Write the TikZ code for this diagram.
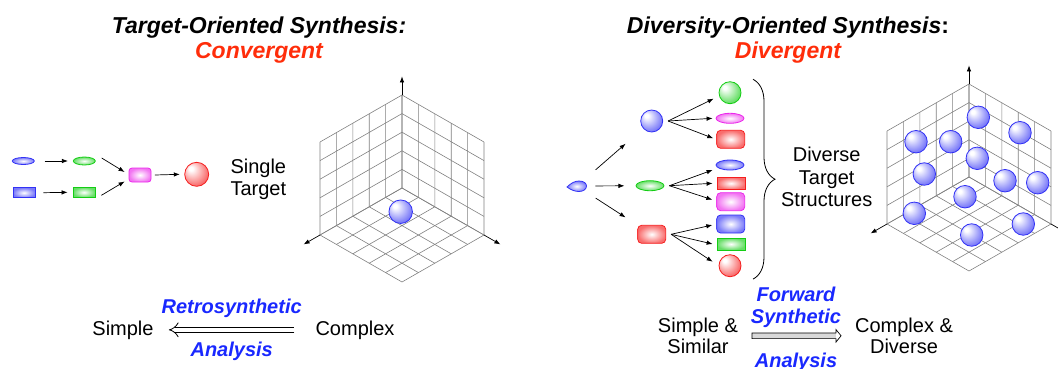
\documentclass[tikz,border=0pt]{standalone}
\usepackage{fontspec}
\setmainfont{Liberation Sans}
\usepackage{xcolor}
\usepackage{tikz}
\usetikzlibrary{arrows.meta,positioning,calc,shapes.geometric,decorations.pathreplacing}

\definecolor{dsblue}{RGB}{50,50,245}
\definecolor{dsred}{RGB}{245,30,30}
\definecolor{dsgreen}{RGB}{20,205,20}
\definecolor{dsmag}{RGB}{235,40,235}
\definecolor{ttlred}{RGB}{255,45,10}
\definecolor{txtblue}{RGB}{25,40,255}

\colorlet{sphcol}{blue}
\pgfdeclareradialshading[sphcol]{sphere}{\pgfpoint{-13bp}{13bp}}{%
  color(0bp)=(white); color(4bp)=(white); color(30bp)=(sphcol); color(50bp)=(sphcol!90!black)}

\begin{document}
\begin{tikzpicture}[
    x=1pt, y=-1pt,
    >=Latex,
    sph/.style={circle, draw=#1, line width=0.8pt, inner sep=0pt, minimum size=22pt,
        /utils/exec={\colorlet{sphcol}{#1!68!white}}, shading=sphere},
    ell/.style={ellipse, draw=#1, line width=0.8pt, inner sep=0pt, inner color=white,
        outer color=#1!65!white, minimum width=28pt, minimum height=10pt},
    blk/.style={rectangle, draw=#1, line width=0.8pt, inner sep=0pt, inner color=white,
        outer color=#1!65!white, minimum width=28pt, minimum height=12pt},
    rblk/.style={blk=#1, rounded corners=4pt, minimum height=18pt},
    arr/.style={-{Latex[length=6pt,width=4.5pt]}, line width=0.7pt},
    gridln/.style={draw=black!50, line width=0.6pt},
    axisln/.style={-{Latex[length=6pt,width=4.5pt]}, line width=0.7pt},
    ttl/.style={font=\fontsize{23}{26}\selectfont\bfseries\itshape, inner sep=0pt, anchor=base},
    lbl/.style={font=\fontsize{20}{21.7}\selectfont, align=center, inner sep=0pt, anchor=base},
    blu/.style={lbl, font=\fontsize{20}{21.7}\selectfont\bfseries\itshape, text=txtblue}
]
\useasboundingbox (0,0) rectangle (1058,368);

% titles
\node[ttl] (tos) at (259,33.5) {Target-Oriented Synthesis:};
\node[ttl, text=ttlred] (conv) at (259,58) {Convergent};
\node[ttl] (dos) at (788,33.5) {Diversity-Oriented Synthesis{\upshape:}};
\node[ttl, text=ttlred] (divg) at (788,58) {Divergent};

% chemical space grids
\foreach \cx/\cy in {402/188,969/177}{
  \begin{scope}[shift={(\cx,\cy)}, x={(-16.4pt,-9.4pt)}, y={(16.4pt,-9.4pt)}, z={(0pt,18.6pt)}]
    \foreach \i in {0,...,5}{
      \draw[gridln] (\i,0,0) -- (\i,5,0) (0,\i,0) -- (5,\i,0);
      \draw[gridln] (\i,0,0) -- (\i,0,5) (0,0,\i) -- (5,0,\i);
      \draw[gridln] (0,\i,0) -- (0,\i,5) (0,0,\i) -- (0,5,\i);
    }
    \draw[axisln] (5,0,0) -- (6,0,0);
    \draw[axisln] (0,5,0) -- (0,6,0);
    \draw[axisln] (0,0,5) -- (0,0,6);
  \end{scope}
}
\node[sph=dsblue, minimum size=23.5pt] (hit) at (400.7,211.7) {};
\foreach \p [count=\k] in {(978.3,117.3),(1020,132.7),(916,141.7),(950.7,141.7),
    (977.3,158.3),(924.3,174),(1005,180.7),(1037.7,182.7),(965,196.7),
    (914.3,213.3),(1023.3,224),(971.7,235)}
  \node[sph=dsblue, minimum size=22.5pt] (lib\k) at \p {};

% convergent route
\node[ell=dsblue, minimum width=22pt, minimum height=7pt] (be) at (23.3,161) {};
\node[ell=dsgreen, minimum width=22pt, minimum height=8pt] (ge) at (84.3,161) {};
\node[blk=dsblue, minimum width=22pt, minimum height=10pt] (br) at (24,192.7) {};
\node[blk=dsgreen, minimum width=22pt, minimum height=10pt] (gr) at (84,192.3) {};
\node[rblk=dsmag, minimum width=22pt, minimum height=14pt, rounded corners=3pt] (mg) at (140,175) {};
\node[sph=dsred, minimum size=24pt] (tgt) at (196.7,174.3) {};
\draw[arr] ($(be.east)+(10,0)$) -- ($(ge.west)+(-5,0)$);
\draw[arr] ($(br.east)+(8,0)$) -- ($(gr.west)+(-5,0)$);
\draw[arr] ($(ge.east)+(6,-3)$) -- ($(mg.west)+(-4,-3)$);
\draw[arr] ($(gr.east)+(6,3)$) -- ($(mg.west)+(-4,6.5)$);
\draw[arr] ($(mg.east)+(3.5,0)$) -- ($(tgt.west)+(-4.5,0)$);
\node[lbl] (single) at (258.3,195) {Single\\Target};

% divergent route
\shade[draw=dsblue, line width=0.8pt, inner color=white, outer color=dsblue!65!white]
  (567,187) .. controls (571,183) and (575,181) .. (579,181)
  .. controls (584,181) and (586.5,183.5) .. (586.5,186)
  .. controls (586.5,189) and (583.5,191.5) .. (579,191.5)
  .. controls (575,191.5) and (571,190) .. (567,187) -- cycle;
\coordinate (seed) at (577,186);
\node[sph=dsblue] (s1) at (651.7,121) {};
\node[ell=dsgreen] (s2) at (650,185.7) {};
\node[rblk=dsred] (s3) at (651.7,234.3) {};
\foreach \n in {s1,s2,s3}
  \draw[arr] ($(seed)!0.25!(\n)$) -- ($(seed)!0.65!(\n)$);

\node[sph=dsgreen] (t1) at (730,92.7) {};
\node[ell=dsmag] (t2) at (730,118.3) {};
\node[rblk=dsred] (t3) at (730.7,139.3) {};
\node[ell=dsblue] (t4) at (730,165) {};
\node[blk=dsred] (t5) at (731,183.3) {};
\node[rblk=dsmag] (t6) at (730.7,201.7) {};
\node[rblk=dsblue] (t7) at (730.7,224) {};
\node[blk=dsgreen] (t8) at (731,244) {};
\node[sph=dsred] (t9) at (730,265.7) {};
\foreach \src/\dst/\dx/\dy in {s1/t1/-5/6, s1/t2/-3/0, s1/t3/-3/-1,
    s2/t4/-3/5, s2/t5/-4/0, s2/t6/-4/-2, s3/t7/-4/1, s3/t8/-4/0, s3/t9/-6/-4}
  \draw[arr] ($(\src.east)+(5,0)$) -- ($(\dst.west)+(\dx,\dy)$);

\draw[decorate, decoration={brace, amplitude=22pt}, line width=0.8pt]
  ($(t1.north)+(23,-2)$) -- ($(t9.south)+(23,2)$);
\node[lbl, font=\fontsize{20}{22.5}\selectfont] (dts) at (826.7,206.7) {Diverse\\Target\\Structures};

% retrosynthetic analysis
\node[lbl] (simple) at (123,335) {Simple};
\node[lbl] (complex) at (355,335) {Complex};
\node[blu] (retro) at (231.7,313) {Retrosynthetic};
\node[blu] (ana1) at (231.7,356) {Analysis};
\draw[double, double distance=4.5pt, line width=0.8pt, -{Implies}, shorten >=15pt, shorten <=21pt]
  (complex) -- (simple);

% forward synthetic analysis
\node[lbl, font=\fontsize{20}{20.7}\selectfont] (simsim) at (698,353.3) {Simple \&\\Similar};
\node[lbl, font=\fontsize{20}{20.7}\selectfont] (cmpdiv) at (904,353.3) {Complex \&\\Diverse};
\node[blu] (fwd) at (796,323.3) {Forward\\Synthetic};
\node[blu] (ana2) at (796,367.5) {Analysis};
\path (simsim.east) -- (cmpdiv.west) coordinate[pos=0.5] (fwdmid);
\fill[gray!30] ($(fwdmid)+(-44.5,-2.8)$) rectangle ($(fwdmid)+(39.5,2.8)$);
\draw[line width=0.7pt] ($(fwdmid)+(-44.5,-2.8)$) -- ++(84,0) -- ++(0,-3.4) -- ++(5,6.2)
  -- ++(-5,6.2) -- ++(0,-3.4) -- ++(-84,0) -- cycle;
\end{tikzpicture}
\end{document}
